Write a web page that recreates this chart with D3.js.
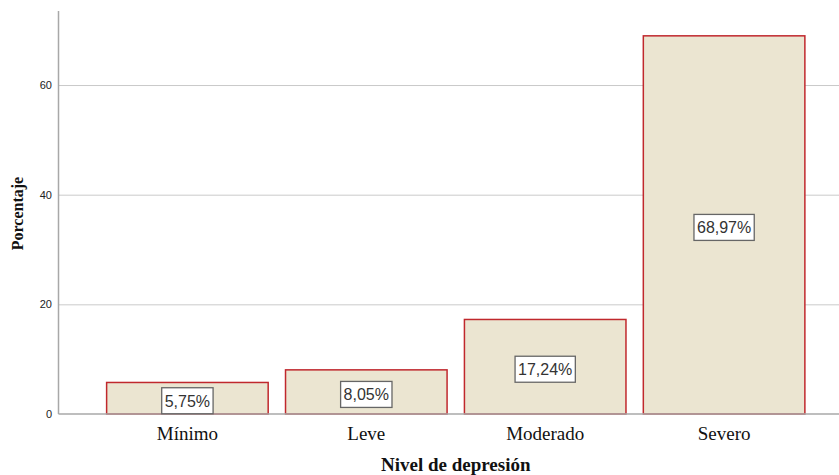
<!DOCTYPE html>
<html>
<head>
<meta charset="utf-8">
<script src="https://cdn.jsdelivr.net/npm/d3@7"></script>
<style>
  html, body { margin: 0; padding: 0; background: #fff; }
  svg { display: block; }
</style>
</head>
<body>
<svg id="chart" width="839" height="475"></svg>
<script>
// Depression level distribution (percent of respondents)
const categories = ["Mínimo", "Leve", "Moderado", "Severo"];
const percentages = [5.75, 8.05, 17.24, 68.97];
const yTicks = [0, 20, 40, 60];

const W = 839, H = 475;
const axisX = 58.5, baseY = 414, topY = 11;

const svg = d3.select("#chart");

const y = d3.scaleLinear().domain([0, 73.5]).range([baseY, topY]);
const x = d3.scaleBand()
  .domain(categories)
  .range([axisX, 853])
  .paddingInner(0.097)
  .paddingOuter(0.269);

const fmt = v => v.toFixed(2).replace(".", ",") + "%";

// gridlines
svg.append("g").selectAll("line")
  .data(yTicks.filter(t => t > 0))
  .join("line")
  .attr("x1", axisX).attr("x2", W)
  .attr("y1", d => y(d) + 0.5).attr("y2", d => y(d) + 0.5)
  .attr("stroke", "#cacaca").attr("stroke-width", 1);

// y tick labels
svg.append("g").selectAll("text")
  .data(yTicks)
  .join("text")
  .attr("x", 52).attr("y", d => y(d))
  .attr("dy", "0.35em")
  .attr("text-anchor", "end")
  .attr("font-family", "Arial, 'Liberation Sans', sans-serif")
  .attr("font-size", 11)
  .attr("fill", "#222")
  .text(d => d);

// bars
svg.append("g").selectAll("rect")
  .data(categories)
  .join("rect")
  .attr("x", d => x(d))
  .attr("y", (d, i) => y(percentages[i]))
  .attr("width", x.bandwidth())
  .attr("height", (d, i) => y(0) - y(percentages[i]))
  .attr("fill", "#ebe5d1")
  .attr("stroke", "#c0282d")
  .attr("stroke-width", 1.5);

// baseline and y axis line
svg.append("line")
  .attr("x1", axisX).attr("x2", W)
  .attr("y1", baseY).attr("y2", baseY)
  .attr("stroke", "#a8a8a8").attr("stroke-width", 1.5);
svg.append("line")
  .attr("x1", axisX).attr("x2", axisX)
  .attr("y1", topY).attr("y2", baseY)
  .attr("stroke", "#a8a8a8").attr("stroke-width", 1.5);

// value labels in boxes
const lab = svg.append("g").selectAll("g")
  .data(categories)
  .join("g")
  .attr("transform", (d, i) => {
    const cx = x(d) + x.bandwidth() / 2;
    const cy = (y(percentages[i]) + y(0)) / 2 + 2.5;
    return `translate(${cx},${cy})`;
  });
lab.append("text")
  .attr("text-anchor", "middle")
  .attr("dy", "0.36em")
  .attr("font-family", "Arial, 'Liberation Sans', sans-serif")
  .attr("font-size", 16)
  .attr("fill", "#333")
  .text((d, i) => fmt(percentages[i]));
lab.each(function() {
  const g = d3.select(this);
  const bb = g.select("text").node().getBBox();
  g.insert("rect", "text")
    .attr("x", bb.x - 3).attr("y", -13)
    .attr("width", bb.width + 6).attr("height", 26)
    .attr("fill", "#fff")
    .attr("stroke", "#666").attr("stroke-width", 1.3);
});

// category labels
svg.append("g").selectAll("text")
  .data(categories)
  .join("text")
  .attr("x", d => x(d) + x.bandwidth() / 2)
  .attr("y", 440)
  .attr("text-anchor", "middle")
  .attr("font-family", "'Times New Roman', 'Liberation Serif', serif")
  .attr("font-size", 19)
  .attr("fill", "#111")
  .text(d => d);

// axis titles
svg.append("text")
  .attr("x", (axisX + W) / 2 + 7)
  .attr("y", 471)
  .attr("text-anchor", "middle")
  .attr("font-family", "'Times New Roman', 'Liberation Serif', serif")
  .attr("font-size", 19)
  .attr("font-weight", "bold")
  .attr("fill", "#111")
  .text("Nivel de depresión");

svg.append("text")
  .attr("transform", `translate(23,${(topY + baseY) / 2 + 1}) rotate(-90)`)
  .attr("text-anchor", "middle")
  .attr("font-family", "'Times New Roman', 'Liberation Serif', serif")
  .attr("font-size", 16)
  .attr("font-weight", "bold")
  .attr("fill", "#111")
  .text("Porcentaje");
</script>
</body>
</html>
